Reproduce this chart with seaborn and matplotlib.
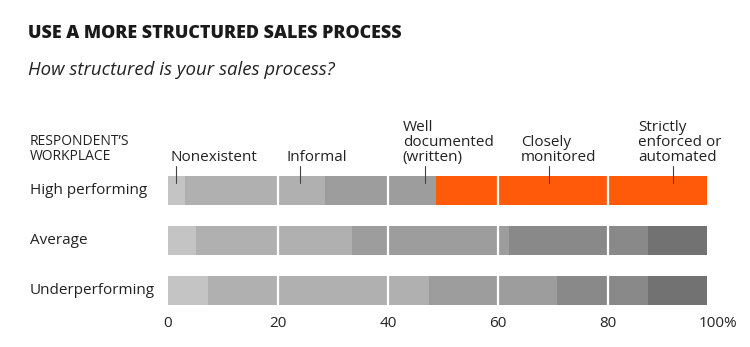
import matplotlib
matplotlib.use("Agg")
import matplotlib.pyplot as plt
import matplotlib.transforms as mtransforms
import seaborn as sns
import pandas as pd
import numpy as np

rows = ["High performing", "Average", "Underperforming"]
categories = ["Nonexistent", "Informal", "Well\ndocumented\n(written)",
              "Closely\nmonitored", "Strictly\nenforced or\nautomated"]
nonexistent = [3.1, 5.1, 7.2]
informal = [25.4, 28.4, 40.2]
well_documented = [20.3, 28.5, 23.3]
closely_monitored = [27.0, 25.3, 16.5]
strictly_enforced = [22.2, 10.7, 10.8]
label_pos = [0.4, 21.6, 42.7, 64.2, 85.5]
tick_x = [1.45, 24, 46.7, 69.3, 91.8]
ticks = [0, 20, 40, 60, 80, 100]
tick_labels = ["0", "20", "40", "60", "80", "100%"]

grays = ["#c4c4c4", "#b0b0b0", "#9d9d9d", "#898989", "#727272"]
orange = "#ff5a0a"

sns.set_theme(style="white")
plt.rcParams["font.family"] = ["Open Sans", "DejaVu Sans"]

fig = plt.figure(figsize=(7.5, 3.47), dpi=100)
ax = fig.add_axes([168 / 750, 1 - 315 / 347, 550 / 750, 150 / 347])

series = [nonexistent, informal, well_documented, closely_monitored, strictly_enforced]
cum = np.cumsum(np.array(series), axis=0)
for k in range(len(series) - 1, -1, -1):
    df = pd.DataFrame({"row": rows, "value": cum[k]})
    pal = {}
    for i, r in enumerate(rows):
        if i == 0 and k >= 3:
            pal[r] = orange
        else:
            pal[r] = grays[k]
    sns.barplot(data=df, x="value", y="row", hue="row", palette=pal,
                order=rows, hue_order=rows, legend=False, width=0.58,
                saturation=1, ax=ax, linewidth=0)

for g in [20, 40, 60, 80]:
    ax.axvline(g, color="white", lw=1.6, zorder=5)

ax.set_xlim(0, 100)
ax.set_ylim(2.5, -0.5)
ax.set_xticks(ticks)
ax.set_xticklabels(tick_labels, fontsize=11, color="#222222")
ax.tick_params(axis="x", length=0, pad=1)
ax.set_yticks([])
ax.set_xlabel("")
ax.set_ylabel("")
for s in ax.spines.values():
    s.set_visible(False)

# Row labels
blend = mtransforms.blended_transform_factory(fig.transFigure, ax.transData)
for i, r in enumerate(rows):
    fig.text(30 / 750, i, r, ha="left", va="center", fontsize=11,
             color="#222222", transform=blend)

# Category labels and leader lines
for lbl, lx, tx in zip(categories, label_pos, tick_x):
    ax.text(lx, -0.58, lbl, ha="left", va="baseline", fontsize=11,
            color="#222222", linespacing=0.98, clip_on=False)
    ax.plot([tx, tx], [-0.48, -0.15], color="#444444", lw=0.8,
            clip_on=False, zorder=6)

fig.text(30 / 750, 1 - 160 / 347, "RESPONDENT\u2019S\nWORKPLACE", ha="left",
         va="baseline", fontsize=10, color="#222222", linespacing=0.98)
fig.text(28 / 750, 1 - 33 / 347, "USE A MORE STRUCTURED SALES PROCESS",
         ha="left", va="center", fontsize=12.9, fontweight="heavy", color="#1a1a1a")
fig.text(28 / 750, 1 - 70 / 347, "How structured is your sales process?",
         ha="left", va="center", fontsize=13.4, style="italic", color="#222222")

fig.savefig("out.png", dpi=100, facecolor="white")
